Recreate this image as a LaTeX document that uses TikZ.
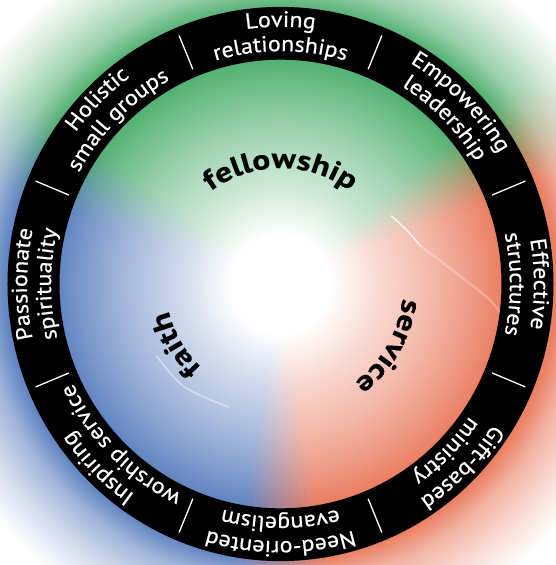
\documentclass[tikz,border=0pt]{standalone}
\usepackage{fontspec}
\usetikzlibrary{decorations.text}
\newfontfamily\ringfont[FakeStretch=1.09,FakeBold=0.6]{PT Sans}
\newfontfamily\corefont[FakeStretch=1.2,FakeBold=0.5]{PT Sans Bold}
\definecolor{fgreen}{RGB}{86,178,116}
\definecolor{fred}{RGB}{234,128,100}
\definecolor{fblue}{RGB}{100,134,194}
\colorlet{sectcol}{fgreen}
% shading drawn on a circle of radius 400: 1bp of the spec ~ 16pt
\pgfdeclareradialshading[sectcol]{glow}{\pgfpoint{0bp}{0bp}}{%
 color(0bp)=(white); color(3.1bp)=(white); color(6.25bp)=(sectcol!30!white);
 color(9.4bp)=(sectcol!55!white); color(12.5bp)=(sectcol!85!white); color(13.8bp)=(sectcol); color(17.25bp)=(sectcol);
 color(18.75bp)=(sectcol!60!white); color(21bp)=(sectcol!25!white); color(23bp)=(white); color(50bp)=(white)}
\newcommand\colwedge[3]{%
 \begin{scope}
 \clip (0,0) -- (#1:700) arc[start angle=#1, end angle=#2, radius=700] -- cycle;
 \colorlet{sectcol}{#3}%
 \shade[shading=glow] (0,0) circle (400);
 \end{scope}}
\newcommand\ringlabel[3]{%
 \path[decorate, decoration={text along path, text align=center, text color=white,
   text={|\ringfont\fontsize{22}{26}\selectfont|#2}}]
   ({#1+40}:253.5) arc[start angle={#1+40}, end angle={#1-40}, radius=253.5];
 \path[decorate, decoration={text along path, text align=center, text color=white,
   text={|\ringfont\fontsize{22}{26}\selectfont|#3}}]
   ({#1+40}:229.5) arc[start angle={#1+40}, end angle={#1-40}, radius=229.5];}
\newcommand\corelabel[3]{%
 \path[decorate, decoration={text along path, text align=center, text color=black,
   text={|\corefont\fontsize{28}{33}\selectfont|#3}}]
   ({#1+60}:#2) arc[start angle={#1+60}, end angle={#1-60}, radius=#2];}
\begin{document}
\begin{tikzpicture}[x=1pt,y=1pt]
\useasboundingbox (-280.5,-281) rectangle (275.5,284);
\clip (-280.5,-281) rectangle (275.5,284);
% coloured sectors with white centre glow
\colwedge{40}{143.3}{fgreen}
\colwedge{161}{261.3}{fblue}
\colwedge{279}{382.3}{fred}
\foreach \k in {0,...,8}{%
  \pgfmathtruncatemacro\p{round((2*\k+1)/18*100)}%
  \pgfmathsetmacro\aa{22+2*\k}\pgfmathsetmacro\bb{24.3+2*\k}%
  \colwedge{\aa}{\bb}{fgreen!\p!fred}%
  \pgfmathsetmacro\aa{143+2*\k}\pgfmathsetmacro\bb{145.3+2*\k}%
  \colwedge{\aa}{\bb}{fblue!\p!fgreen}%
  \pgfmathsetmacro\aa{261+2*\k}\pgfmathsetmacro\bb{263.3+2*\k}%
  \colwedge{\aa}{\bb}{fred!\p!fblue}%
}
% light streaks
\draw[white, opacity=.85, line width=1.5, line cap=round] plot[smooth] coordinates {(111,68) (126,54) (140,38)};
\draw[white, opacity=.25, line width=2.5, line cap=round] plot[smooth] coordinates {(140,38) (182,6) (215,-22) (236,-62) (241,-102)};
\draw[white, opacity=.4, line width=1.8, line cap=round] plot[smooth] coordinates {(-124,-72) (-96,-103) (-52,-123)};
% ring
\begin{scope}[yscale=1.015]
\fill[black, even odd rule] (0,0) circle (273) (0,0) circle (221);
\foreach \a in {22.5,67.5,...,337.5}
  \draw[white, line width=1.3] (\a:229) -- (\a:265);
\ringlabel{90}{Loving}{relationships}
\ringlabel{45}{Empowering}{leadership}
\ringlabel{0}{Effective}{structures}
\ringlabel{-45}{Gift-based}{ministry}
\ringlabel{-90}{Need-oriented}{evangelism}
\ringlabel{-135}{Inspiring}{worship service}
\ringlabel{180}{Passionate}{spirituality}
\ringlabel{135}{Holistic}{small groups}
\end{scope}
\corelabel{90}{116}{fellowship}
\corelabel{-30}{123}{service}
\corelabel{210}{115}{faith}
\end{tikzpicture}
\end{document}
